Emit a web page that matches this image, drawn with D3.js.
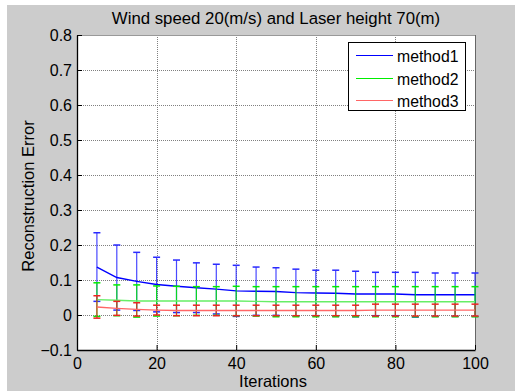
<!DOCTYPE html>
<html>
<head>
<meta charset="utf-8">
<script src="https://cdn.jsdelivr.net/npm/d3@7"></script>
<style>
  html, body { margin: 0; padding: 0; background: #ffffff; }
  svg { display: block; }
  text { font-family: "Liberation Sans", Arial, Helvetica, sans-serif; fill: #000; }
</style>
</head>
<body>
<svg id="chart" width="517" height="392"></svg>
<script>
// Iteration counts
const iterations = [5, 10, 15, 20, 25, 30, 35, 40, 45, 50, 55, 60, 65, 70, 75, 80, 85, 90, 95, 100];

// Mean reconstruction error per method
const method1Mean = [0.137, 0.107, 0.096, 0.087, 0.082, 0.078, 0.074, 0.069, 0.068, 0.067, 0.064, 0.063, 0.062, 0.060, 0.060, 0.060, 0.058, 0.058, 0.058, 0.058];
const method2Mean = [0.044, 0.042, 0.040, 0.040, 0.040, 0.040, 0.040, 0.040, 0.039, 0.038, 0.038, 0.038, 0.038, 0.038, 0.038, 0.038, 0.038, 0.038, 0.038, 0.038];
const method3Mean = [0.023, 0.019, 0.016, 0.014, 0.013, 0.013, 0.013, 0.013, 0.013, 0.013, 0.013, 0.013, 0.013, 0.013, 0.014, 0.014, 0.014, 0.014, 0.014, 0.014];

// Half-length of the error bars (standard deviation)
const method1Err = [0.098, 0.093, 0.083, 0.078, 0.075, 0.071, 0.071, 0.073, 0.069, 0.068, 0.067, 0.065, 0.066, 0.065, 0.062, 0.062, 0.064, 0.062, 0.062, 0.062];
const method2Err = [0.048, 0.044, 0.046, 0.043, 0.042, 0.041, 0.041, 0.042, 0.042, 0.043, 0.043, 0.043, 0.043, 0.043, 0.043, 0.043, 0.043, 0.043, 0.043, 0.043];
const method3Err = [0.032, 0.020, 0.019, 0.014, 0.015, 0.015, 0.015, 0.015, 0.015, 0.015, 0.015, 0.015, 0.015, 0.015, 0.017, 0.017, 0.017, 0.017, 0.017, 0.017];

const seriesNames = ["method1", "method2", "method3"];
const xTicks = [0, 20, 40, 60, 80, 100];
const yTicks = [-0.1, 0, 0.1, 0.2, 0.3, 0.4, 0.5, 0.6, 0.7, 0.8];

const titleText = "Wind speed 20(m/s) and Laser height 70(m)";
const xLabel = "Iterations";
const yLabel = "Reconstruction Error";

const plot = { left: 77, right: 475, top: 35, bottom: 350 };

const svg = d3.select("#chart");

// Figure background
svg.append("rect").attr("x", 7).attr("y", 5).attr("width", 508).attr("height", 386).attr("fill", "#cccccc");

const x = d3.scaleLinear().domain([0, 100]).range([plot.left, plot.right]);
const y = d3.scaleLinear().domain([-0.1, 0.8]).range([plot.bottom, plot.top]);

// Axes area
svg.append("rect")
  .attr("x", plot.left).attr("y", plot.top)
  .attr("width", plot.right - plot.left).attr("height", plot.bottom - plot.top)
  .attr("fill", "#ffffff");

// Grid lines
const grid = svg.append("g").attr("stroke", "#808080").attr("stroke-width", 1).attr("stroke-dasharray", "1,1");
grid.selectAll("line.gx").data(xTicks.slice(1, -1)).join("line")
  .attr("x1", d => Math.round(x(d)) + 0.5).attr("x2", d => Math.round(x(d)) + 0.5)
  .attr("y1", plot.top).attr("y2", plot.bottom);
grid.selectAll("line.gy").data(yTicks.slice(1, -1)).join("line")
  .attr("y1", d => Math.round(y(d)) + 0.5).attr("y2", d => Math.round(y(d)) + 0.5)
  .attr("x1", plot.left).attr("x2", plot.right);

// Box edges (top and right)
svg.append("line").attr("x1", plot.left).attr("x2", plot.right).attr("y1", plot.top + 0.5).attr("y2", plot.top + 0.5)
  .attr("stroke", "#999").attr("stroke-width", 1);
svg.append("line").attr("x1", plot.right + 0.5).attr("x2", plot.right + 0.5).attr("y1", plot.top).attr("y2", plot.bottom)
  .attr("stroke", "#666").attr("stroke-width", 1);

// Series with error bars
const series = [
  { mean: method1Mean, err: method1Err, line: "#0000ff", bar: "#2a2aff", legend: "#0000ff" },
  { mean: method2Mean, err: method2Err, line: "#66ee66", bar: "#00ee00", legend: "#00ee00" },
  { mean: method3Mean, err: method3Err, line: "#ff6666", bar: "#ee2222", legend: "#ff6666" }
];

const capHalf = 3.5;
series.forEach(s => {
  const g = svg.append("g");
  const pts = iterations.map((it, i) => ({ it, m: s.mean[i], e: s.err[i] }));
  g.selectAll("line.v").data(pts).join("line")
    .attr("x1", d => x(d.it)).attr("x2", d => x(d.it))
    .attr("y1", d => y(d.m - d.e)).attr("y2", d => y(d.m + d.e))
    .attr("stroke", s.bar).attr("stroke-width", 1.2).attr("opacity", 0.85);
  g.selectAll("line.cu").data(pts).join("line")
    .attr("x1", d => x(d.it) - capHalf).attr("x2", d => x(d.it) + capHalf)
    .attr("y1", d => y(d.m + d.e)).attr("y2", d => y(d.m + d.e))
    .attr("stroke", s.bar).attr("stroke-width", 1.5);
  g.selectAll("line.cl").data(pts).join("line")
    .attr("x1", d => x(d.it) - capHalf).attr("x2", d => x(d.it) + capHalf)
    .attr("y1", d => y(d.m - d.e)).attr("y2", d => y(d.m - d.e))
    .attr("stroke", s.bar).attr("stroke-width", 1.5);
  g.append("path")
    .datum(pts)
    .attr("fill", "none")
    .attr("stroke", s.line)
    .attr("stroke-width", 1.4)
    .attr("d", d3.line().x(d => x(d.it)).y(d => y(d.m)));
});

// Axes
const xAxis = d3.axisBottom(x).tickValues(xTicks).tickSizeInner(-5).tickSizeOuter(0).tickPadding(8).tickFormat(d3.format("d"));
const yAxis = d3.axisLeft(y).tickValues(yTicks).tickSizeInner(-5).tickSizeOuter(0).tickPadding(5).tickFormat(d => d === 0 ? "0" : d3.format(".1f")(d));

const gx = svg.append("g").attr("transform", `translate(0,${plot.bottom})`).call(xAxis);
const gy = svg.append("g").attr("transform", `translate(${plot.left},0)`).call(yAxis);
[gx, gy].forEach(g => {
  g.select(".domain").attr("stroke", "#000").attr("stroke-width", 1.3);
  g.selectAll(".tick line").attr("stroke", "#000");
  g.selectAll(".tick text").attr("font-size", 16).attr("font-family", "'Liberation Sans', Arial, sans-serif").attr("fill", "#000");
});

// Title and axis labels
svg.append("text").attr("x", 276).attr("y", 24).attr("text-anchor", "middle").attr("font-size", 16.8).text(titleText);
svg.append("text").attr("x", 273).attr("y", 387).attr("text-anchor", "middle").attr("font-size", 16.5).text(xLabel);
svg.append("text").attr("transform", "translate(34,196) rotate(-90)").attr("text-anchor", "middle").attr("font-size", 16.5).text(yLabel);

// Legend
const lg = svg.append("g");
lg.append("rect").attr("x", 348.5).attr("y", 42.5).attr("width", 117).attr("height", 68)
  .attr("fill", "#fff").attr("stroke", "#000").attr("stroke-width", 1);
seriesNames.forEach((name, i) => {
  const cy = Math.round(55 + i * 22.5) + 0.5;
  lg.append("line").attr("x1", 356).attr("x2", 393).attr("y1", cy).attr("y2", cy)
    .attr("stroke", series[i].legend).attr("stroke-width", 1);
  lg.append("text").attr("x", 397).attr("y", cy + 6).attr("font-size", 15.8).text(name);
});
</script>
</body>
</html>
